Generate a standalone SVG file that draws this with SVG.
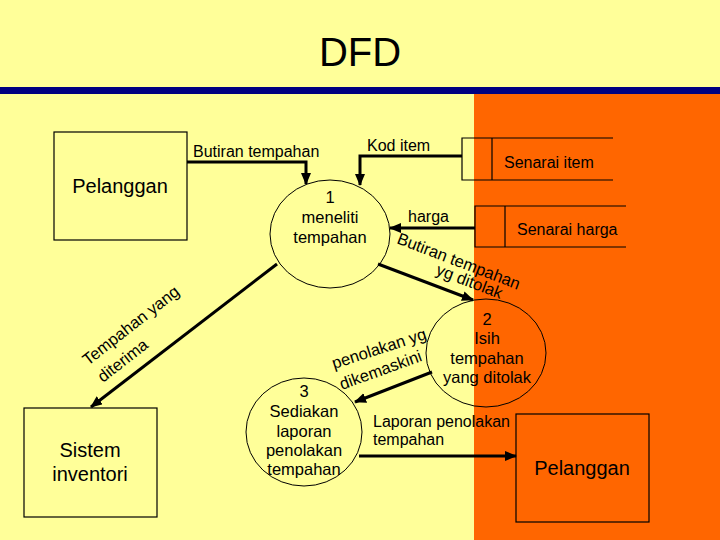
<svg xmlns="http://www.w3.org/2000/svg" width="720" height="540" viewBox="0 0 720 540">
<defs>
<style>
text{font-family:"Liberation Sans",Arial,sans-serif;fill:#000}
.lbl{font-size:16px}
.rot{font-size:16.5px}
.ent{font-size:20px}
.prc{font-size:16.5px;text-anchor:middle}
.box{fill:none;stroke:#000;stroke-width:1.2}
.cir{fill:none;stroke:#000;stroke-width:1}
.flow{fill:none;stroke:#000;stroke-width:3;marker-end:url(#ah)}
.st{fill:none;stroke:#000;stroke-width:1.2}
</style>
<marker id="ah" markerUnits="userSpaceOnUse" markerWidth="14" markerHeight="12" refX="11" refY="5" orient="auto">
<path d="M0,0 L12,5 L0,10 Z" fill="#000"/>
</marker>
</defs>
<rect x="0" y="0" width="720" height="540" fill="#FFFF99"/>
<rect x="474" y="93" width="246" height="447" fill="#FF6600"/>
<rect x="0" y="87" width="720" height="7" fill="#000080"/>
<text x="360" y="66" font-size="40" text-anchor="middle">DFD</text>

<g id="connectors">
<polyline class="flow" points="187,162 306,162 306,184"/>
<polyline class="flow" points="462,156 360,156 360,185"/>
<line class="flow" x1="475" y1="228" x2="390" y2="228"/>
<line class="flow" x1="378" y1="264" x2="473" y2="300"/>
<line class="flow" x1="277" y1="264" x2="91" y2="407"/>
<line class="flow" x1="432" y1="372" x2="355" y2="402"/>
<line class="flow" x1="359" y1="456" x2="516" y2="456"/>
<text class="lbl" x="193" y="157">Butiran tempahan</text>
<text class="lbl" x="367" y="151">Kod item</text>
<text class="lbl" x="408" y="222">harga</text>
<text class="rot" transform="translate(396,243) rotate(21)">Butiran tempahan</text>
<text class="rot" transform="translate(435,274) rotate(21)">yg ditolak</text>
<text class="rot" transform="translate(88,366) rotate(-38)">Tempahan yang</text>
<text class="rot" transform="translate(103,383) rotate(-38)">diterima</text>
<text class="rot" transform="translate(334,369) rotate(-18)">penolakan yg</text>
<text class="rot" transform="translate(342,390) rotate(-20)">dikemaskini</text>
<text class="lbl" x="373" y="427">Laporan penolakan</text>
<text class="lbl" x="373" y="445">tempahan</text>
</g>

<g id="pelanggan1">
<rect class="box" x="54" y="132" width="133" height="108"/>
<text class="ent" x="120" y="193" text-anchor="middle">Pelanggan</text>
</g>

<g id="proses1">
<ellipse class="cir" cx="330" cy="234" rx="60" ry="54"/>
<text class="prc" x="330" y="203">1</text>
<text class="prc" x="330" y="223">meneliti</text>
<text class="prc" x="330" y="243">tempahan</text>
</g>

<g id="senarai-item">
<polyline class="st" points="613,138 462,138 462,180 613,180"/>
<line class="st" x1="492" y1="138" x2="492" y2="180"/>
<text class="lbl" x="504" y="168">Senarai item</text>
</g>

<g id="senarai-harga">
<polyline class="st" points="626,206 475,206 475,247 626,247"/>
<line class="st" x1="505" y1="206" x2="505" y2="247"/>
<text class="lbl" x="517" y="235">Senarai harga</text>
</g>

<g id="proses2">
<ellipse class="cir" cx="486" cy="353" rx="60" ry="54"/>
<text class="prc" x="487" y="325">2</text>
<text class="prc" x="487" y="344">Isih</text>
<text class="prc" x="487" y="364">tempahan</text>
<text class="prc" x="487" y="383">yang ditolak</text>
</g>

<g id="proses3">
<ellipse class="cir" cx="304" cy="432" rx="58" ry="54"/>
<text class="prc" x="304" y="397">3</text>
<text class="prc" x="304" y="417">Sediakan</text>
<text class="prc" x="304" y="437">laporan</text>
<text class="prc" x="304" y="456">penolakan</text>
<text class="prc" x="304" y="475">tempahan</text>
</g>

<g id="sistem-inventori">
<rect class="box" x="24" y="408" width="133" height="109"/>
<text class="ent" x="90" y="457" text-anchor="middle">Sistem</text>
<text class="ent" x="90" y="481" text-anchor="middle">inventori</text>
</g>

<g id="pelanggan2">
<rect class="box" x="516" y="414" width="133" height="108"/>
<text class="ent" x="582" y="475" text-anchor="middle">Pelanggan</text>
</g>
</svg>
